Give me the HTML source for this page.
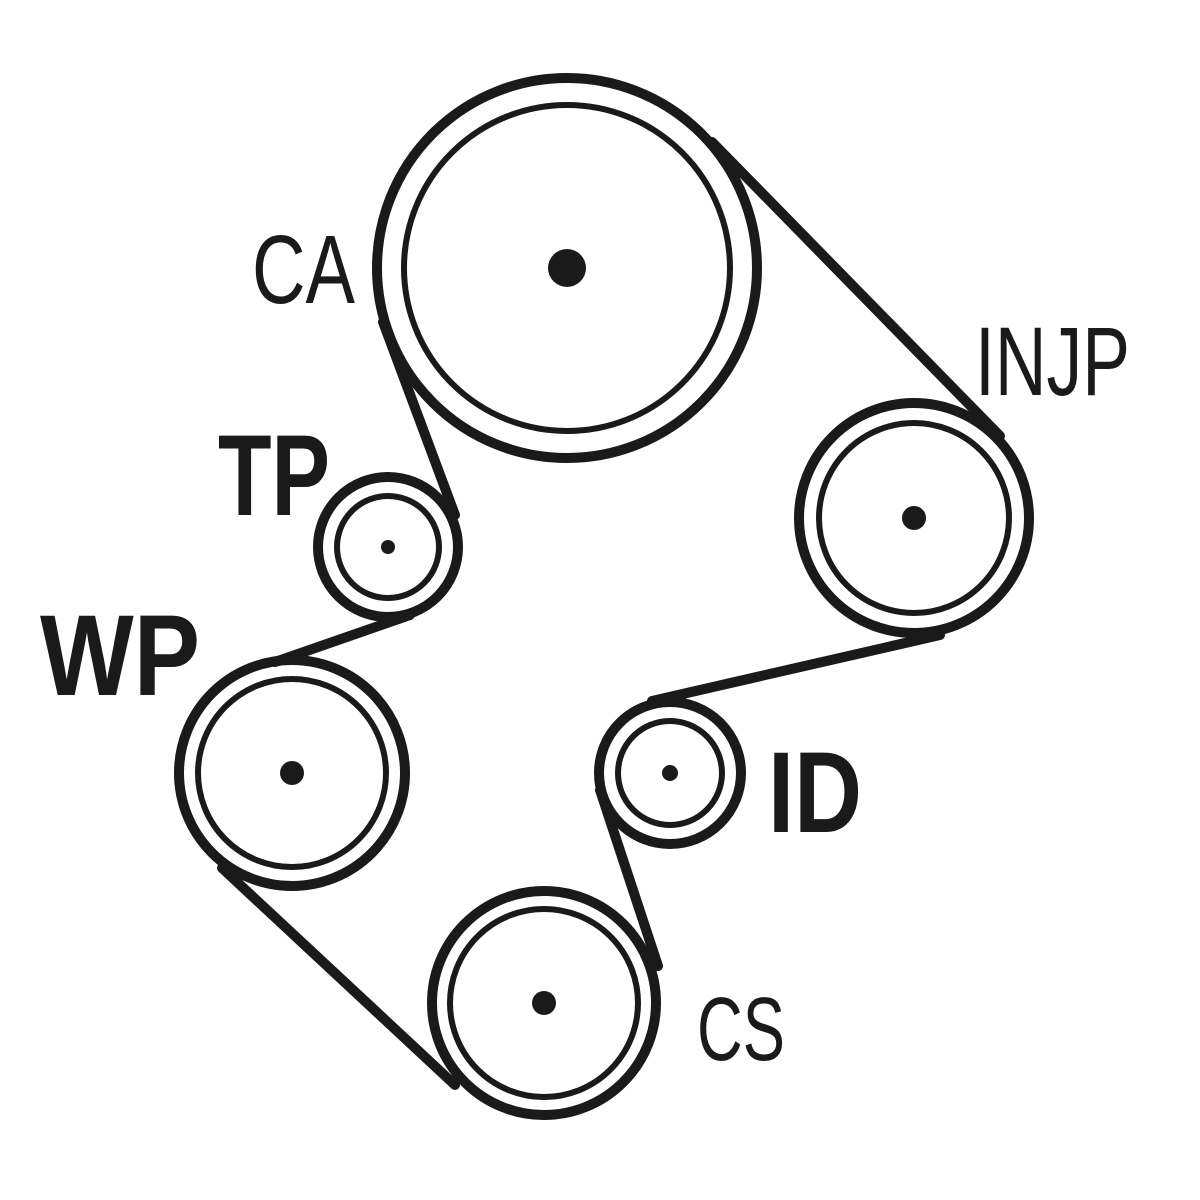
<!DOCTYPE html>
<html><head><style>html,body{margin:0;padding:0;background:#fff}svg{display:block}</style></head>
<body>
<svg width="1200" height="1200" viewBox="0 0 1200 1200" xmlns="http://www.w3.org/2000/svg">
<g fill="none" stroke="#1a1a1a">
<!-- belt lines -->
<g stroke-width="10" stroke-linecap="round">
<line x1="712" y1="142" x2="1000" y2="436"/>
<line x1="383" y1="322" x2="455" y2="515"/>
<line x1="410" y1="615" x2="275" y2="662"/>
<line x1="222" y1="868" x2="455" y2="1085"/>
<line x1="658" y1="966" x2="600" y2="790"/>
<line x1="652" y1="701" x2="940" y2="635"/>
</g>
<!-- outer rings -->
<g stroke-width="10">
<circle cx="567" cy="268" r="190"/>
<circle cx="914" cy="518" r="115"/>
<circle cx="388" cy="547" r="70"/>
<circle cx="292" cy="773" r="113"/>
<circle cx="670" cy="773" r="71"/>
<circle cx="544" cy="1003" r="112"/>
</g>
<!-- inner rings -->
<g stroke-width="6">
<circle cx="567" cy="268" r="163"/>
<circle cx="914" cy="518" r="95"/>
<circle cx="388" cy="547" r="51"/>
<circle cx="292" cy="773" r="94"/>
<circle cx="670" cy="773" r="52"/>
<circle cx="544" cy="1003" r="94"/>
</g>
</g>
<g fill="#1a1a1a">
<circle cx="567" cy="268" r="19"/>
<circle cx="914" cy="518" r="12"/>
<circle cx="388" cy="547" r="7"/>
<circle cx="292" cy="773" r="12"/>
<circle cx="670" cy="773" r="8"/>
<circle cx="544" cy="1003" r="12"/>
</g>
<g fill="#1a1a1a" font-family="'Liberation Sans Narrow','Liberation Sans',sans-serif">
<text x="252" y="303" font-size="97" textLength="103" lengthAdjust="spacingAndGlyphs">CA</text>
<text x="975" y="395" font-size="97" textLength="155" lengthAdjust="spacingAndGlyphs">INJP</text>
<text x="697" y="1060" font-size="90" textLength="88" lengthAdjust="spacingAndGlyphs">CS</text>
<text x="218" y="515" font-size="115" font-weight="bold" textLength="112" lengthAdjust="spacingAndGlyphs">TP</text>
<text x="40" y="695" font-size="115" font-weight="bold" textLength="160" lengthAdjust="spacingAndGlyphs">WP</text>
<text x="768" y="832" font-size="115" font-weight="bold" textLength="94" lengthAdjust="spacingAndGlyphs">ID</text>
</g>
</svg>
</body></html>
